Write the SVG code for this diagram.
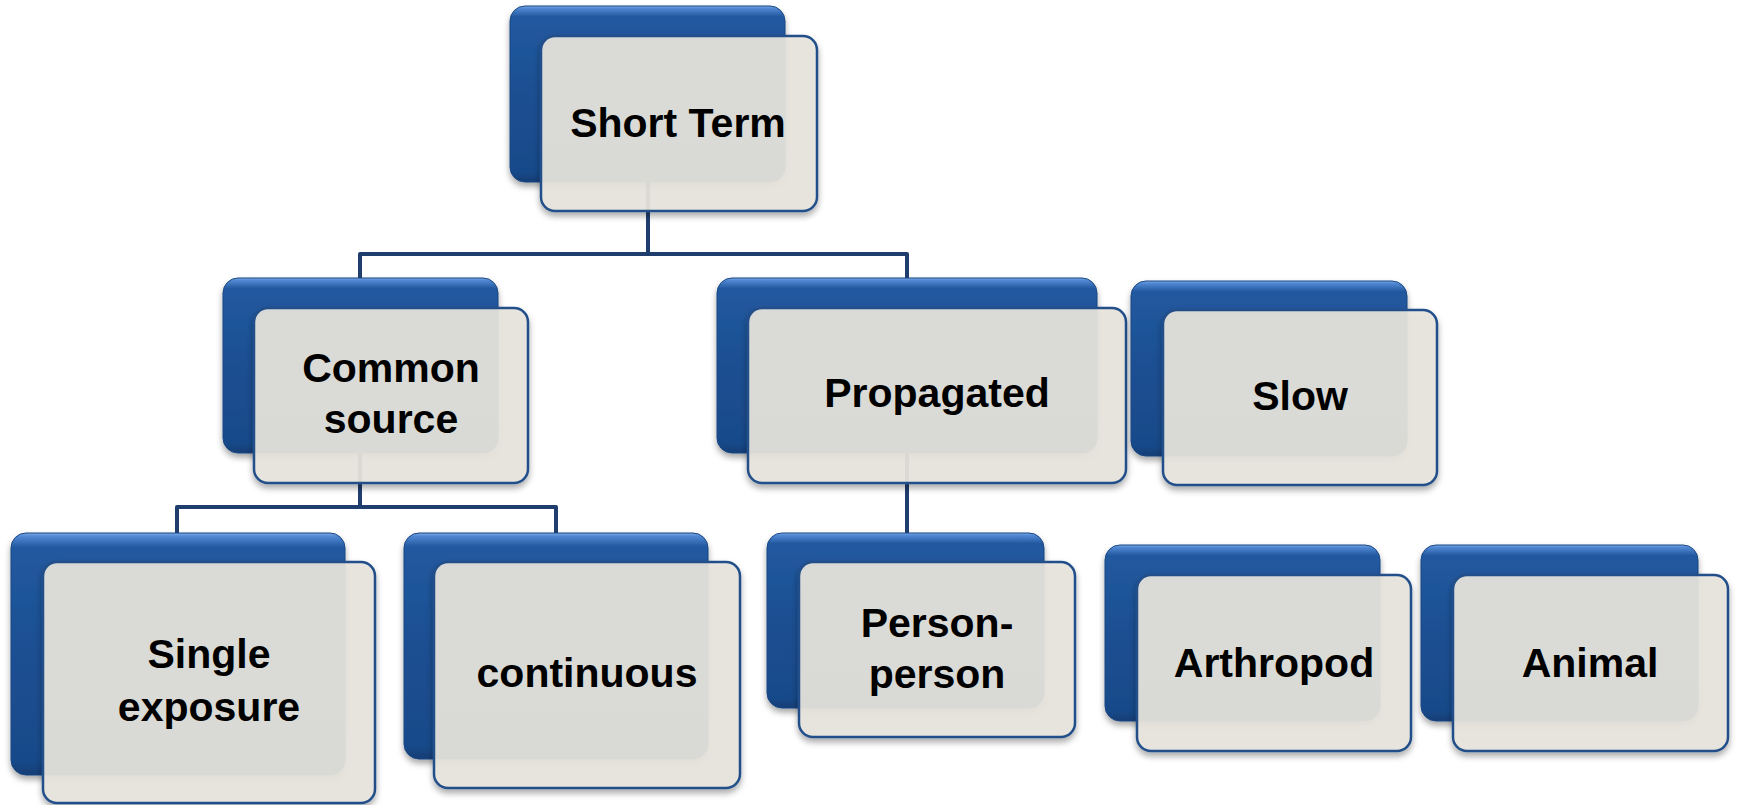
<svg xmlns="http://www.w3.org/2000/svg" width="1737" height="805" viewBox="0 0 1737 805">
<defs>
<linearGradient id="blueGrad" x1="0" y1="0" x2="0" y2="1">
<stop offset="0" stop-color="#7aa7e6"/>
<stop offset="0.015" stop-color="#4f86d1"/>
<stop offset="0.06" stop-color="#22599f"/>
<stop offset="0.5" stop-color="#1b4f92"/>
<stop offset="0.94" stop-color="#194a8a"/>
<stop offset="1" stop-color="#143d75"/>
</linearGradient>
<filter id="shadow" x="-10%" y="-10%" width="120%" height="130%">
<feDropShadow dx="0" dy="4" stdDeviation="3" flood-color="#000" flood-opacity="0.35"/>
</filter>
</defs>
<style>
.back{fill:url(#blueGrad);stroke:#1a4682;stroke-width:1;filter:url(#shadow)}
.front{fill:#e7e5dc;fill-opacity:0.92;stroke:#234f8a;stroke-width:2.5;filter:url(#shadow)}
.lbl{font-family:"Liberation Sans",Arial,sans-serif;font-weight:bold;font-size:41px;fill:#000;text-anchor:middle}
.conn{fill:none;stroke:#1f3e6e;stroke-width:4;stroke-linejoin:round}
</style>
<g id="connectors">
<path class="conn" d="M648,182 V254"/>
<path class="conn" d="M360,278 V254 H907 V278"/>
<path class="conn" d="M360,453 V507"/>
<path class="conn" d="M177,533 V507 H556 V533"/>
<path class="conn" d="M907,453 V533"/>
</g>
<g id="short-term">
<rect class="back" x="510" y="6" width="275" height="176" rx="15"/>
<rect class="front" x="541" y="36" width="276" height="175" rx="14"/>
<text class="lbl" x="678" y="137">Short Term</text>
</g>
<g id="common-source">
<rect class="back" x="223" y="278" width="275" height="175" rx="15"/>
<rect class="front" x="254" y="308" width="274" height="175" rx="14"/>
<text class="lbl" x="391" y="382">Common</text>
<text class="lbl" x="391" y="433">source</text>
</g>
<g id="propagated">
<rect class="back" x="717" y="278" width="380" height="175" rx="15"/>
<rect class="front" x="748" y="308" width="378" height="175" rx="14"/>
<text class="lbl" x="937" y="407">Propagated</text>
</g>
<g id="slow">
<rect class="back" x="1131" y="281" width="276" height="175" rx="15"/>
<rect class="front" x="1163" y="310" width="274" height="175" rx="14"/>
<text class="lbl" x="1300" y="410">Slow</text>
</g>
<g id="single-exposure">
<rect class="back" x="11" y="533" width="334" height="242" rx="15"/>
<rect class="front" x="43" y="562" width="332" height="241" rx="14"/>
<text class="lbl" x="209" y="668">Single</text>
<text class="lbl" x="209" y="721">exposure</text>
</g>
<g id="continuous">
<rect class="back" x="404" y="533" width="304" height="226" rx="15"/>
<rect class="front" x="434" y="562" width="306" height="226" rx="14"/>
<text class="lbl" x="587" y="687">continuous</text>
</g>
<g id="person-person">
<rect class="back" x="767" y="533" width="277" height="175" rx="15"/>
<rect class="front" x="799" y="562" width="276" height="175" rx="14"/>
<text class="lbl" x="937" y="637">Person-</text>
<text class="lbl" x="937" y="688">person</text>
</g>
<g id="arthropod">
<rect class="back" x="1105" y="545" width="275" height="176" rx="15"/>
<rect class="front" x="1137" y="575" width="274" height="176" rx="14"/>
<text class="lbl" x="1274" y="677">Arthropod</text>
</g>
<g id="animal">
<rect class="back" x="1421" y="545" width="277" height="176" rx="15"/>
<rect class="front" x="1453" y="575" width="275" height="176" rx="14"/>
<text class="lbl" x="1590" y="677">Animal</text>
</g>
</svg>
